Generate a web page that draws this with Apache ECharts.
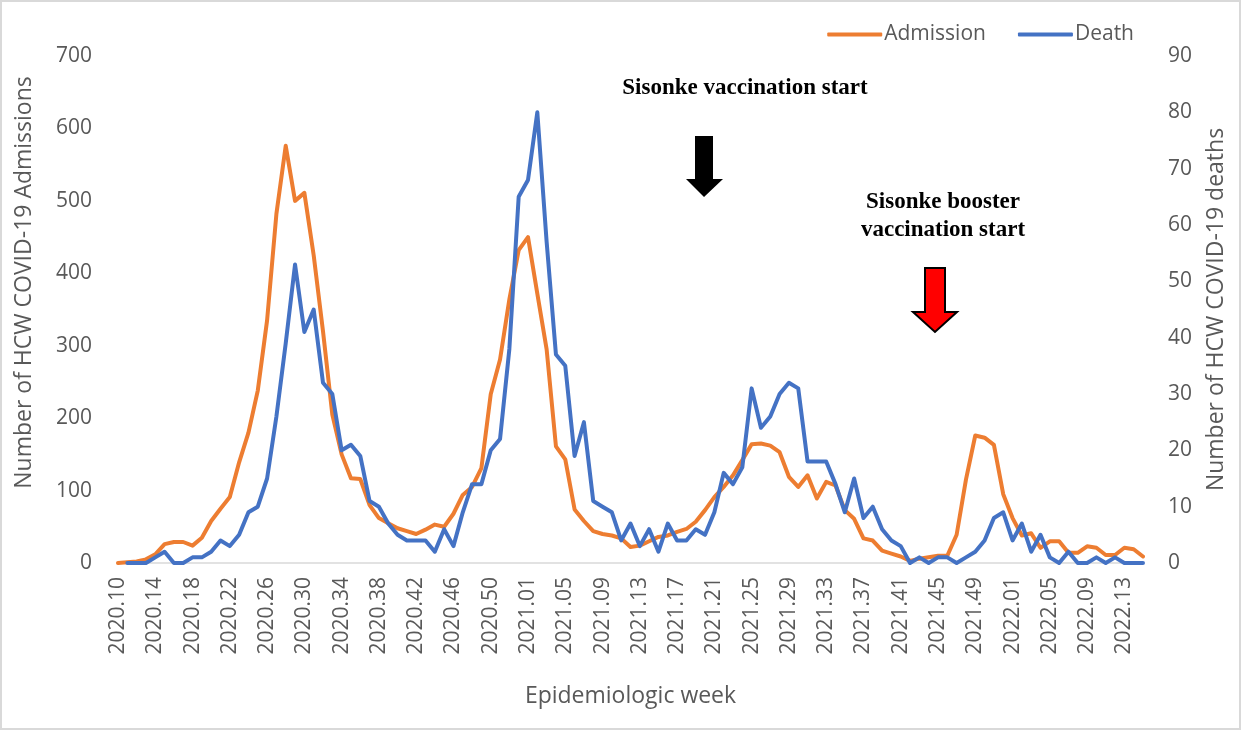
<!DOCTYPE html>
<html>
<head>
<meta charset="utf-8">
<script src="https://cdn.jsdelivr.net/npm/echarts/dist/echarts.min.js"></script>
<style>
  html, body { margin: 0; padding: 0; background: #fff; }
  #chart { width: 1247px; height: 731px; }
</style>
</head>
<body>
<div id="chart"></div>
<script>
// epidemiologic weeks (x axis)
var weeks = [
  '2020.10','2020.11','2020.12','2020.13','2020.14','2020.15','2020.16','2020.17','2020.18','2020.19',
  '2020.20','2020.21','2020.22','2020.23','2020.24','2020.25','2020.26','2020.27','2020.28','2020.29',
  '2020.30','2020.31','2020.32','2020.33','2020.34','2020.35','2020.36','2020.37','2020.38','2020.39',
  '2020.40','2020.41','2020.42','2020.43','2020.44','2020.45','2020.46','2020.47','2020.48','2020.49',
  '2020.50','2020.51','2020.52','2020.53',
  '2021.01','2021.02','2021.03','2021.04','2021.05','2021.06','2021.07','2021.08','2021.09','2021.10',
  '2021.11','2021.12','2021.13','2021.14','2021.15','2021.16','2021.17','2021.18','2021.19','2021.20',
  '2021.21','2021.22','2021.23','2021.24','2021.25','2021.26','2021.27','2021.28','2021.29','2021.30',
  '2021.31','2021.32','2021.33','2021.34','2021.35','2021.36','2021.37','2021.38','2021.39','2021.40',
  '2021.41','2021.42','2021.43','2021.44','2021.45','2021.46','2021.47','2021.48','2021.49','2021.50',
  '2021.51','2021.52',
  '2022.01','2022.02','2022.03','2022.04','2022.05','2022.06','2022.07','2022.08','2022.09','2022.10',
  '2022.11','2022.12','2022.13','2022.14','2022.15'
];

// weekly HCW admissions (left axis)
var admissions = [
  0, 1, 2, 5, 12, 26, 29, 29, 24, 35,
  58, 75, 91, 139, 180, 238, 335, 482, 576, 500,
  511, 425, 320, 205, 150, 117, 116, 80, 62, 55,
  48, 44, 40, 46, 53, 50, 68, 94, 105, 131,
  233, 281, 364, 432,
  450, 372, 295, 161, 143, 74, 58, 44, 40, 38,
  34, 22, 24, 30, 36, 38, 43, 47, 57, 73,
  91, 105, 121, 142, 164, 165, 162, 153, 119, 105,
  121, 89, 112, 107, 73, 61, 34, 31, 17, 13,
  9, 3, 6, 8, 10, 10, 39, 115, 176, 173,
  163, 95,
  62, 38, 41, 21, 30, 30, 14, 14, 23, 21,
  11, 11, 21, 19, 9
];

// weekly HCW deaths (right axis)
var deaths = [
  null, 0, 0, 0, 1, 2, 0, 0, 1, 1,
  2, 4, 3, 5, 9, 10, 15, 26, 39, 53,
  41, 45, 32, 30, 20, 21, 19, 11, 10, 7,
  5, 4, 4, 4, 2, 6, 3, 9, 14, 14,
  20, 22, 38, 65,
  68, 80, 57, 37, 35, 19, 25, 11, 10, 9,
  4, 7, 3, 6, 2, 7, 4, 4, 6, 5,
  9, 16, 14, 17, 31, 24, 26, 30, 32, 31,
  18, 18, 18, 14, 9, 15, 8, 10, 6, 4,
  3, 0, 1, 0, 1, 1, 0, 1, 2, 4,
  8, 9,
  4, 7, 2, 5, 1, 0, 2, 0, 0, 1,
  0, 1, 0, 0, 0
];

var seriesNames = ['Admission', 'Death'];

var grey = '#595959';
var sans = '"Open Sans", "Noto Sans", sans-serif';
var serif = '"Liberation Serif", "DejaVu Serif", serif';

var myChart = echarts.init(document.getElementById('chart'));

var option = {
  backgroundColor: '#fff',
  animation: false,
  grid: {
    left: 118,
    right: 104,
    top: 56,
    bottom: 168
  },
  legend: {
    data: seriesNames,
    top: 19,
    right: 108,
    icon: 'roundRect',
    itemWidth: 55,
    itemHeight: 4,
    itemGap: 32,
    textStyle: { fontSize: 21, color: grey, fontFamily: sans, padding: [0, 0, 0, -3] }
  },
  xAxis: {
    type: 'category',
    data: weeks,
    boundaryGap: false,
    name: 'Epidemiologic week',
    nameLocation: 'middle',
    nameGap: 122,
    nameTextStyle: { fontSize: 23, color: grey, fontFamily: sans },
    axisLine: { lineStyle: { color: '#d9d9d9', width: 1.5 } },
    axisTick: { show: false },
    axisLabel: {
      interval: 3,
      rotate: 90,
      margin: 14,
      fontSize: 21,
      color: grey,
      fontFamily: sans
    },
    splitLine: { show: false }
  },
  yAxis: [{
    type: 'value',
    min: 0,
    max: 700,
    interval: 100,
    name: 'Number of HCW COVID-19 Admissions',
    nameLocation: 'middle',
    nameRotate: 90,
    nameGap: 82,
    nameTextStyle: { fontSize: 23, color: grey, fontFamily: sans, padding: [0, 0, 0, 54] },
    axisLine: { show: false },
    axisTick: { show: false },
    splitLine: { show: false },
    axisLabel: { margin: 26, fontSize: 21, color: grey, fontFamily: sans }
  }, {
    type: 'value',
    min: 0,
    max: 90,
    interval: 10,
    name: 'Number of HCW COVID-19 deaths',
    nameLocation: 'middle',
    nameRotate: 90,
    nameGap: 62,
    nameTextStyle: { fontSize: 23, color: grey, fontFamily: sans },
    axisLine: { show: false },
    axisTick: { show: false },
    splitLine: { show: false },
    axisLabel: { margin: 25, fontSize: 21, color: grey, fontFamily: sans }
  }],
  series: [{
    name: seriesNames[0],
    type: 'line',
    yAxisIndex: 0,
    data: admissions,
    symbol: 'none',
    color: '#ED7D31',
    lineStyle: { width: 4, color: '#ED7D31', join: 'round', cap: 'round' }
  }, {
    name: seriesNames[1],
    type: 'line',
    yAxisIndex: 1,
    data: deaths,
    symbol: 'none',
    color: '#4472C4',
    lineStyle: { width: 4, color: '#4472C4', join: 'round', cap: 'round' }
  }],
  graphic: [
    // outer frame
    {
      type: 'rect',
      shape: { x: 1, y: 1, width: 1239, height: 728 },
      style: { fill: 'none', stroke: '#d9d9d9', lineWidth: 2 },
      silent: true
    },
    // vaccination start
    {
      type: 'text',
      x: 745, y: 88,
      style: { text: 'Sisonke vaccination start', align: 'center', verticalAlign: 'middle',
        font: 'bold 23px ' + serif, fill: '#000' }
    },
    {
      type: 'polygon',
      shape: { points: [[695, 136], [713, 136], [713, 179], [723, 179], [704, 197], [686, 179], [695, 179]] },
      style: { fill: '#000' }
    },
    // booster start
    {
      type: 'text',
      x: 943, y: 216,
      style: { text: 'Sisonke booster\nvaccination start', align: 'center', verticalAlign: 'middle',
        lineHeight: 28, font: 'bold 23px ' + serif, fill: '#000' }
    },
    {
      type: 'polygon',
      shape: { points: [[925, 268], [945, 268], [945, 312], [957, 312], [935, 332], [913, 312], [925, 312]] },
      style: { fill: '#ff0000', stroke: '#000', lineWidth: 2, lineJoin: 'miter' }
    }
  ]
};

myChart.setOption(option);
</script>
</body>
</html>
